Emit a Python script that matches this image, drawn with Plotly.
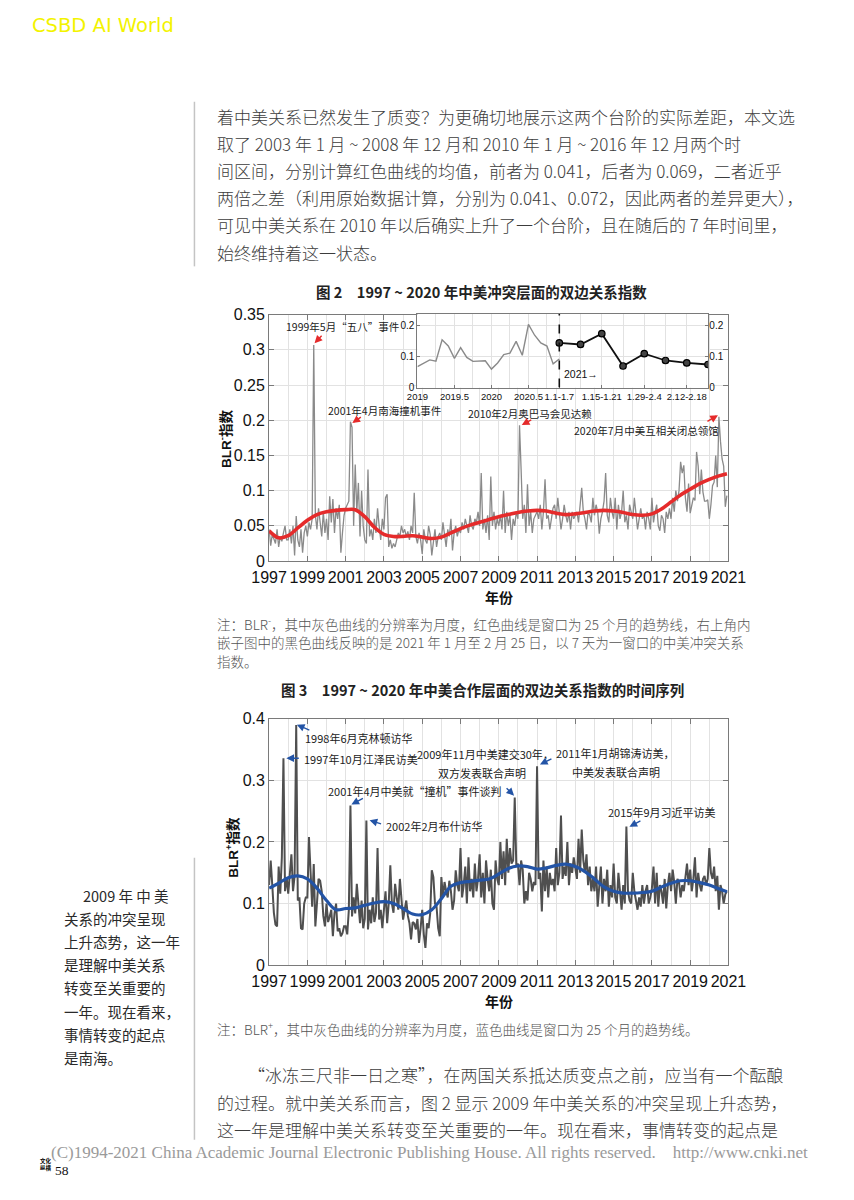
import plotly.graph_objects as go

OFF = 8                       # browser body margin
W, H = 854 - 2 * OFF, 1200 - 2 * OFF

# ---------------- data ----------------
start_year = 1997
# Fig.2 conflict index BLR- (monthly, Jan 1997 - Dec 2020)
conflict_monthly = [
    0.045, 0.022, 0.038, 0.030, 0.025, 0.045, 0.020, 0.035, 0.028, 0.040, 0.050, 0.030,  # 1997
    0.030, 0.045, 0.025, 0.050, 0.008, 0.064, 0.030, 0.020, 0.045, 0.012, 0.040, 0.050,  # 1998
    0.035, 0.055, 0.045, 0.060, 0.307, 0.065, 0.045, 0.075, 0.050, 0.035, 0.070, 0.040,  # 1999
    0.060, 0.030, 0.092, 0.055, 0.088, 0.040, 0.075, 0.060, 0.080, 0.012, 0.040, 0.065,  # 2000
    0.075, 0.080, 0.085, 0.198, 0.190, 0.050, 0.137, 0.070, 0.111, 0.035, 0.100, 0.050,  # 2001
    0.030, 0.025, 0.130, 0.035, 0.045, 0.030, 0.060, 0.040, 0.075, 0.050, 0.030, 0.060,  # 2002
    0.045, 0.090, 0.095, 0.020, 0.030, 0.018, 0.025, 0.020, 0.030, 0.040, 0.035, 0.050,  # 2003
    0.040, 0.045, 0.035, 0.042, 0.030, 0.050, 0.040, 0.097, 0.035, 0.025, 0.040, 0.030,  # 2004
    0.010, 0.045, 0.030, 0.025, 0.050, 0.038, 0.008, 0.030, 0.045, 0.020, 0.035, 0.040,  # 2005
    0.030, 0.055, 0.040, 0.020, 0.045, 0.035, 0.060, 0.015, 0.040, 0.050, 0.035, 0.045,  # 2006
    0.040, 0.055, 0.045, 0.060, 0.050, 0.040, 0.065, 0.050, 0.045, 0.060, 0.055, 0.070,  # 2007
    0.050, 0.125, 0.045, 0.060, 0.040, 0.065, 0.030, 0.120, 0.050, 0.070, 0.045, 0.060,  # 2008
    0.050, 0.065, 0.045, 0.100, 0.040, 0.070, 0.050, 0.065, 0.030, 0.060, 0.050, 0.070,  # 2009
    0.060, 0.193, 0.130, 0.060, 0.080, 0.040, 0.109, 0.050, 0.070, 0.040, 0.060, 0.065,  # 2010
    0.070, 0.060, 0.080, 0.045, 0.070, 0.116, 0.060, 0.065, 0.045, 0.060, 0.075, 0.080,  # 2011
    0.060, 0.090, 0.070, 0.045, 0.060, 0.080, 0.065, 0.055, 0.070, 0.045, 0.070, 0.060,  # 2012
    0.065, 0.070, 0.055, 0.080, 0.104, 0.070, 0.060, 0.045, 0.070, 0.065, 0.055, 0.090,  # 2013
    0.065, 0.080, 0.070, 0.039, 0.060, 0.070, 0.085, 0.125, 0.065, 0.055, 0.090, 0.070,  # 2014
    0.060, 0.090, 0.045, 0.080, 0.060, 0.070, 0.100, 0.055, 0.065, 0.045, 0.080, 0.070,  # 2015
    0.060, 0.090, 0.070, 0.045, 0.060, 0.075, 0.060, 0.065, 0.045, 0.070, 0.060, 0.045,  # 2016
    0.090, 0.055, 0.070, 0.080, 0.050, 0.043, 0.065, 0.060, 0.040, 0.070, 0.060, 0.075,  # 2017
    0.060, 0.090, 0.070, 0.100, 0.085, 0.100, 0.141, 0.125, 0.136, 0.090, 0.070, 0.110,  # 2018
    0.068, 0.078, 0.090, 0.086, 0.155, 0.135, 0.095, 0.130, 0.098, 0.085, 0.085, 0.087,  # 2019
    0.060, 0.080, 0.107, 0.112, 0.150, 0.105, 0.205, 0.170, 0.145, 0.135, 0.077, 0.093,  # 2020
]
conflict_trend_x = [1997.0, 1997.5, 1998.0, 1998.5, 1999.0, 1999.5, 2000.0, 2000.5, 2001.0, 2001.5,
                    2002.0, 2002.5, 2003.0, 2003.5, 2004.0, 2004.5, 2005.0, 2005.5, 2006.0, 2006.5,
                    2007.0, 2007.5, 2008.0, 2008.5, 2009.0, 2009.5, 2010.0, 2010.5, 2011.0, 2011.5,
                    2012.0, 2012.5, 2013.0, 2013.5, 2014.0, 2014.5, 2015.0, 2015.5, 2016.0, 2016.5,
                    2017.0, 2017.5, 2018.0, 2018.5, 2019.0, 2019.5, 2020.0, 2020.5, 2020.92]
conflict_trend = [0.043, 0.033, 0.036, 0.047, 0.058, 0.066, 0.070, 0.072, 0.073, 0.073,
                  0.063, 0.048, 0.038, 0.035, 0.035, 0.036, 0.034, 0.032, 0.034, 0.040,
                  0.046, 0.051, 0.055, 0.059, 0.063, 0.066, 0.069, 0.071, 0.072, 0.071,
                  0.068, 0.066, 0.067, 0.069, 0.071, 0.072, 0.071, 0.069, 0.066, 0.065,
                  0.067, 0.074, 0.084, 0.094, 0.102, 0.110, 0.116, 0.121, 0.124]

# inset: weekly conflict index, Jan 1 - Feb 25 2021
weekly_labels = ["1.1-1.7", "1.8-1.14", "1.15-1.21", "1.22-1.28", "1.29-2.4", "2.5-2.11", "2.12-2.18", "2.19-2.25"]
weekly_values = [0.145, 0.140, 0.175, 0.070, 0.110, 0.088, 0.080, 0.075]
inset_year_ticks = [2019, 2019.5, 2020, 2020.5]
inset_year_labels = ["2019", "2019.5", "2020", "2020.5"]

# Fig.3 cooperation index BLR+ (monthly)
coop_monthly = [
    0.130, 0.170, 0.130, 0.085, 0.066, 0.063, 0.160, 0.116, 0.175, 0.336, 0.120, 0.143,  # 1997
    0.116, 0.150, 0.180, 0.120, 0.145, 0.390, 0.105, 0.110, 0.060, 0.058, 0.100, 0.110,  # 1998
    0.110, 0.208, 0.137, 0.095, 0.164, 0.063, 0.100, 0.140, 0.137, 0.120, 0.080, 0.063,  # 1999
    0.100, 0.070, 0.079, 0.090, 0.047, 0.084, 0.100, 0.055, 0.060, 0.047, 0.052, 0.063,  # 2000
    0.063, 0.050, 0.090, 0.259, 0.079, 0.110, 0.084, 0.132, 0.100, 0.068, 0.105, 0.060,  # 2001
    0.075, 0.235, 0.058, 0.090, 0.068, 0.110, 0.070, 0.085, 0.190, 0.074, 0.090, 0.060,  # 2002
    0.090, 0.120, 0.068, 0.100, 0.162, 0.100, 0.085, 0.132, 0.110, 0.090, 0.140, 0.100,  # 2003
    0.074, 0.090, 0.105, 0.080, 0.068, 0.042, 0.070, 0.068, 0.058, 0.075, 0.036, 0.060,  # 2004
    0.090, 0.050, 0.028, 0.068, 0.060, 0.084, 0.154, 0.143, 0.100, 0.095, 0.060, 0.047,  # 2005
    0.143, 0.110, 0.135, 0.120, 0.110, 0.137, 0.120, 0.090, 0.105, 0.154, 0.130, 0.120,  # 2006
    0.190, 0.110, 0.130, 0.160, 0.100, 0.175, 0.120, 0.140, 0.110, 0.165, 0.120, 0.140,  # 2007
    0.180, 0.110, 0.150, 0.100, 0.170, 0.140, 0.120, 0.155, 0.100, 0.090, 0.170, 0.140,  # 2008
    0.130, 0.200, 0.140, 0.185, 0.130, 0.205, 0.150, 0.190, 0.165, 0.170, 0.272, 0.160,  # 2009
    0.165, 0.130, 0.170, 0.155, 0.100, 0.120, 0.105, 0.150, 0.140, 0.120, 0.135, 0.130,  # 2010
    0.323, 0.140, 0.150, 0.087, 0.170, 0.120, 0.160, 0.110, 0.150, 0.130, 0.140, 0.120,  # 2011
    0.190, 0.130, 0.150, 0.243, 0.140, 0.160, 0.145, 0.200, 0.130, 0.165, 0.150, 0.175,  # 2012
    0.160, 0.140, 0.205, 0.150, 0.220, 0.170, 0.150, 0.180, 0.130, 0.160, 0.120, 0.140,  # 2013
    0.120, 0.160, 0.095, 0.130, 0.160, 0.100, 0.140, 0.120, 0.155, 0.095, 0.130, 0.110,  # 2014
    0.165, 0.110, 0.100, 0.150, 0.120, 0.090, 0.130, 0.100, 0.225, 0.120, 0.105, 0.100,  # 2015
    0.150, 0.120, 0.105, 0.090, 0.110, 0.095, 0.130, 0.100, 0.120, 0.130, 0.100, 0.110,  # 2016
    0.125, 0.160, 0.100, 0.150, 0.095, 0.130, 0.120, 0.100, 0.140, 0.092, 0.130, 0.150,  # 2017
    0.120, 0.155, 0.135, 0.100, 0.140, 0.135, 0.110, 0.130, 0.120, 0.145, 0.165, 0.130,  # 2018
    0.155, 0.120, 0.140, 0.175, 0.110, 0.150, 0.130, 0.120, 0.140, 0.145, 0.130, 0.140,  # 2019
    0.190, 0.150, 0.140, 0.160, 0.120, 0.145, 0.090, 0.130, 0.120, 0.100, 0.115, 0.120,  # 2020
]
coop_trend_x = [1997.0, 1997.5, 1998.0, 1998.5, 1999.0, 1999.5, 2000.0, 2000.5, 2001.0, 2001.5,
                2002.0, 2002.5, 2003.0, 2003.5, 2004.0, 2004.5, 2005.0, 2005.5, 2006.0, 2006.5,
                2007.0, 2007.5, 2008.0, 2008.5, 2009.0, 2009.5, 2010.0, 2010.5, 2011.0, 2011.5,
                2012.0, 2012.5, 2013.0, 2013.5, 2014.0, 2014.5, 2015.0, 2015.5, 2016.0, 2016.5,
                2017.0, 2017.5, 2018.0, 2018.5, 2019.0, 2019.5, 2020.0, 2020.5, 2020.92]
coop_trend = [0.125, 0.133, 0.142, 0.145, 0.140, 0.125, 0.105, 0.090, 0.092, 0.093,
              0.097, 0.101, 0.103, 0.100, 0.092, 0.083, 0.082, 0.090, 0.108, 0.128,
              0.134, 0.136, 0.138, 0.140, 0.148, 0.157, 0.161, 0.160, 0.156, 0.158,
              0.162, 0.164, 0.160, 0.152, 0.140, 0.127, 0.120, 0.117, 0.117, 0.118,
              0.120, 0.127, 0.133, 0.137, 0.137, 0.134, 0.130, 0.124, 0.119]

y2_tickvals = [0, 0.05, 0.1, 0.15, 0.2, 0.25, 0.3, 0.35]
y2_ticktext = ["0", "0.05", "0.1", "0.15", "0.2", "0.25", "0.3", "0.35"]
y3_tickvals = [0, 0.1, 0.2, 0.3, 0.4]
y3_ticktext = ["0", "0.1", "0.2", "0.3", "0.4"]
inset_ytickvals = [0, 0.1, 0.2]
inset_yticktext = ["0", "0.1", "0.2"]

# ---------------- positions (page pixels -> paper fractions) ----------------
def px(x):
    return (x - OFF) / W

def py(y):
    return 1 - (y - OFF) / H

months = [start_year + i / 12 for i in range(len(conflict_monthly))]
inset_months = months[-24:]
inset_monthly = conflict_monthly[-24:]
sep = inset_months[-1]            # first week of 2021 sits at the dashed line
week_step = 0.287
weekly_x = [sep + k * week_step for k in range(len(weekly_values))]
inset_range = [2019, weekly_x[-1] + 0.005]

GRAY2 = "#8a8a8a"
RED = "#e52b2b"
GRAY3 = "#4f4f4f"
BLUE = "#2354a6"
AX = "#7a7a7a"
GRID = "#e2e2e2"
SANS = "Liberation Sans, Arial, sans-serif"
CJK = "Noto Sans CJK SC, sans-serif"

fig = go.Figure()

# Fig 2 main
fig.add_trace(go.Scatter(x=months, y=conflict_monthly, mode="lines",
                         line=dict(color=GRAY2, width=1.3), xaxis="x", yaxis="y"))
fig.add_trace(go.Scatter(x=conflict_trend_x, y=conflict_trend, mode="lines",
                         line=dict(color=RED, width=3.6, shape="spline", smoothing=1.0),
                         xaxis="x", yaxis="y"))
# inset
fig.add_trace(go.Scatter(x=inset_months, y=inset_monthly, mode="lines",
                         line=dict(color=GRAY2, width=1.4), xaxis="x2", yaxis="y2"))
fig.add_trace(go.Scatter(x=weekly_x, y=weekly_values, mode="lines+markers",
                         line=dict(color="#111", width=1.8),
                         marker=dict(size=6.5, color="#444", line=dict(color="#000", width=1.2)),
                         xaxis="x2", yaxis="y2"))
fig.add_trace(go.Scatter(x=[weekly_x[0]], y=[None], xaxis="x2", yaxis="y4", mode="lines"))
# Fig 3
fig.add_trace(go.Scatter(x=months, y=coop_monthly, mode="lines",
                         line=dict(color=GRAY3, width=2.0), xaxis="x3", yaxis="y3"))
fig.add_trace(go.Scatter(x=coop_trend_x, y=coop_trend, mode="lines",
                         line=dict(color=BLUE, width=3.2, shape="spline", smoothing=1.0),
                         xaxis="x3", yaxis="y3"))

common = dict(showline=True, linecolor=AX, linewidth=1, ticks="inside", ticklen=5,
              tickcolor=AX, gridcolor=GRID, gridwidth=1, zeroline=False, tickangle=0,
              tickfont=dict(family=SANS, size=16, color="#111"))
main_x = dict(common, range=[1997, 2021], tickmode="linear", tick0=1997, dtick=2,
              mirror="ticks", showgrid=True, ticklabelstandoff=2,
              minor=dict(dtick=1, showgrid=True, gridcolor=GRID, ticks=""))
small_font = dict(family=SANS, size=10, color="#111")
small_xfont = dict(family=SANS, size=9.5, color="#111")

fig.update_layout(
    width=W, height=H, margin=dict(l=0, r=0, t=0, b=0),
    paper_bgcolor="white", plot_bgcolor="white", showlegend=False,
    xaxis=dict(main_x, domain=[px(262), px(742)], anchor="y"),
    yaxis=dict(common, domain=[py(561), py(311)], range=[0, 0.35], tickmode="array",
               tickvals=y2_tickvals, ticktext=y2_ticktext, mirror="ticks", anchor="x"),
    xaxis2=dict(common, domain=[px(417), px(721)], range=inset_range, anchor="y2",
                tickmode="array", tickvals=inset_year_ticks + weekly_x[0::2],
                ticktext=inset_year_labels + weekly_labels[0::2], mirror=True, ticklen=3,
                tickfont=small_xfont, showgrid=True,
                minor=dict(tickmode="array",
                           tickvals=[2019.25, 2019.75, 2020.25, 2020.75] + weekly_x[1::2],
                           showgrid=True, gridcolor=GRID, ticks="")),
    yaxis2=dict(common, domain=[py(385), py(310)], range=[0, 0.24], anchor="x2",
                tickmode="array", tickvals=inset_ytickvals, ticktext=inset_yticktext,
                mirror=True, ticklen=3, showgrid=True, tickfont=small_font),
    yaxis4=dict(common, overlaying="y2", side="right", range=[0, 0.24], anchor="x2",
                tickmode="array", tickvals=inset_ytickvals, ticktext=inset_yticktext,
                showgrid=False, showline=False, ticklen=3, tickfont=small_font),
    xaxis3=dict(main_x, domain=[px(262), px(742)], anchor="y3"),
    yaxis3=dict(common, domain=[py(971), py(721)], range=[0, 0.4], tickmode="array",
                tickvals=y3_tickvals, ticktext=y3_ticktext, mirror="ticks", anchor="x3"),
)

shapes = [
    # inset background mask (hides main grid under the inset)
    dict(type="rect", xref="x2", yref="y2", x0=inset_range[0], x1=inset_range[1], y0=0, y1=0.24,
         fillcolor="white", line=dict(width=0), layer="below"),
    dict(type="line", xref="x2", yref="y2", x0=sep, x1=sep, y0=0, y1=0.24,
         line=dict(color="#111", width=1.6, dash="dash")),
    # margin rules
    dict(type="line", xref="paper", yref="paper", x0=px(184), x1=px(184), y0=py(95), y1=py(262),
         line=dict(color="#c4c4c4", width=1.5)),
    dict(type="line", xref="paper", yref="paper", x0=px(184), x1=px(184), y0=py(862), y1=py(1148),
         line=dict(color="#c4c4c4", width=1.5)),
]
fig.update_layout(shapes=shapes)

ann = []

def txt(s, x, y, size, color="#222", family=CJK, anchor="left", angle=0, weight=None):
    f = dict(family=family, size=size, color=color)
    if weight is not None:
        f["weight"] = weight
    ann.append(dict(text=s, x=px(x), y=py(y), xref="paper", yref="paper", showarrow=False,
                    xanchor=anchor, yanchor="middle", textangle=angle, font=f))

def arrow(tail, head, color):
    ann.append(dict(text="", x=px(head[0]), y=py(head[1]), xref="paper", yref="paper",
                    ax=tail[0] - head[0], ay=tail[1] - head[1], axref="pixel", ayref="pixel",
                    showarrow=True, arrowhead=2, arrowsize=1.1, arrowwidth=1.4,
                    arrowcolor=color, standoff=0, startstandoff=0))

BODY = "#3c3c3c"

# header watermark
txt("CSBD AI World", 12, 18, 19.5, color="#f3f300", family="DejaVu Sans, sans-serif")

# body text (top)
top_lines = [
    "着中美关系已然发生了质变？为更确切地展示这两个台阶的实际差距，本文选",
    "取了 2003 年 1 月 ~ 2008 年 12 月和 2010 年 1 月 ~ 2016 年 12 月两个时",
    "间区间，分别计算红色曲线的均值，前者为 0.041，后者为 0.069，二者近乎",
    "两倍之差（利用原始数据计算，分别为 0.041、0.072，因此两者的差异更大），",
    "可见中美关系在 2010 年以后确实上升了一个台阶，且在随后的 7 年时间里，",
    "始终维持着这一状态。",
]
for i, s in enumerate(top_lines):
    txt(s, 205, 110 + 27.5 * i, 17, color=BODY, weight=300)

# Fig 2 title and labels
txt("<b>图 2　1997 ~ 2020 年中美冲突层面的双边关系指数</b>", 484, 288, 14.5, color="#222", anchor="center")
txt("<b>BLR<sup>-</sup>指数</b>", 216, 437, 13.5, color="#111", family=SANS + ", " + CJK, anchor="center", angle=-90)
txt("<b>年份</b>", 502, 597, 14, color="#111", anchor="center")
txt("2021→", 568, 371, 10.5, color="#111", family=SANS)

red_notes = [
    ("1999年5月“五八”事件", 278, 323, (318, 331), (309.5, 340)),
    ("2001年4月南海撞机事件", 321, 408, (359, 414), (349, 421)),
    ("2010年2月奥巴马会见达赖", 468, 411, (537, 417), (526, 423)),
    ("2020年7月中美互相关闭总领馆", 579, 429, (719, 420), (731, 413)),
]
for s, x, y, t, h in red_notes:
    txt(s, x, y, 10.5, color="#222")
    arrow(t, h, RED)

# notes of Fig 2
note2 = [
    "注：BLR<sup>-</sup>，其中灰色曲线的分辨率为月度，红色曲线是窗口为 25 个月的趋势线，右上角内",
    "嵌子图中的黑色曲线反映的是 2021 年 1 月至 2 月 25 日，以 7 天为一窗口的中美冲突关系",
    "指数。",
]
for i, s in enumerate(note2):
    txt(s, 206, 624 + 19.3 * i, 13.5, color="#555", weight=300)

# Fig 3 title and labels
txt("<b>图 3　1997 ~ 2020 年中美合作层面的双边关系指数的时间序列</b>", 485, 691, 14.5, color="#222", anchor="center")
txt("<b>BLR<sup>+</sup>指数</b>", 223, 851, 13.5, color="#111", family=SANS + ", " + CJK, anchor="center", angle=-90)
txt("<b>年份</b>", 502, 1007, 14, color="#111", anchor="center")

blue_notes = [
    ("1998年6月克林顿访华", 297, 741, (305, 733), (291, 727)),
    ("1997年10月江泽民访美", 296, 762, (294, 761), (280, 761)),
    ("2001年4月中美就“撞机”事件谈判", 321, 794, (361, 801), (348, 808)),
    ("2002年2月布什访华", 382, 830, (380, 828), (367, 824)),
    ("2009年11月中美建交30年，", 414, 757, (509, 790), (518, 799)),
    ("2011年1月胡锦涛访美，", 560, 756, (558, 761), (545, 767.5)),
    ("2015年9月习近平访美", 614, 816, (651, 824), (638.5, 830.5)),
]
for s, x, y, t, h in blue_notes:
    txt(s, x, y, 11, color="#222")
    arrow(t, h, BLUE)
txt("双方发表联合声明", 436, 776, 11, color="#222")
txt("中美发表联合声明", 576, 775, 11, color="#222")

txt("注：BLR<sup>+</sup>，其中灰色曲线的分辨率为月度，蓝色曲线是窗口为 25 个月的趋势线。", 206, 1035, 13.5, color="#555", weight=300)

# side note
side = ["关系的冲突呈现", "上升态势，这一年", "是理解中美关系", "转变至关重要的",
        "一年。现在看来，", "事情转变的起点", "是南海。"]
txt("2009 年 中 美", 158, 900, 14.5, color="#2a2a2a", anchor="right")
for i, s in enumerate(side):
    txt(s, 46, 923.5 + 23.5 * i, 14.5, color="#2a2a2a")

# body text (bottom)
txt("“冰冻三尺非一日之寒”，在两国关系抵达质变点之前，应当有一个酝酿", 238, 1082, 17, color=BODY, weight=300)
txt("的过程。就中美关系而言，图 2 显示 2009 年中美关系的冲突呈现上升态势，", 205, 1110, 17, color=BODY, weight=300)
txt("这一年是理解中美关系转变至关重要的一年。现在看来，事情转变的起点是", 205, 1138, 17, color=BODY, weight=300)

# footer
txt("(C)1994-2021 China Academic Journal Electronic Publishing House. All rights reserved.\u00a0\u00a0\u00a0\u00a0http://www.cnki.net",
    32, 1161, 17, color="#9a9a9a", family="Liberation Serif, Times New Roman, serif")
txt("<b>文化<br>纵横</b>", 21, 1173, 5.5, color="#000")
txt("58", 36, 1179, 13.5, color="#111", family="Liberation Serif, serif")

fig.update_layout(annotations=ann)
fig.write_html("out.html")
